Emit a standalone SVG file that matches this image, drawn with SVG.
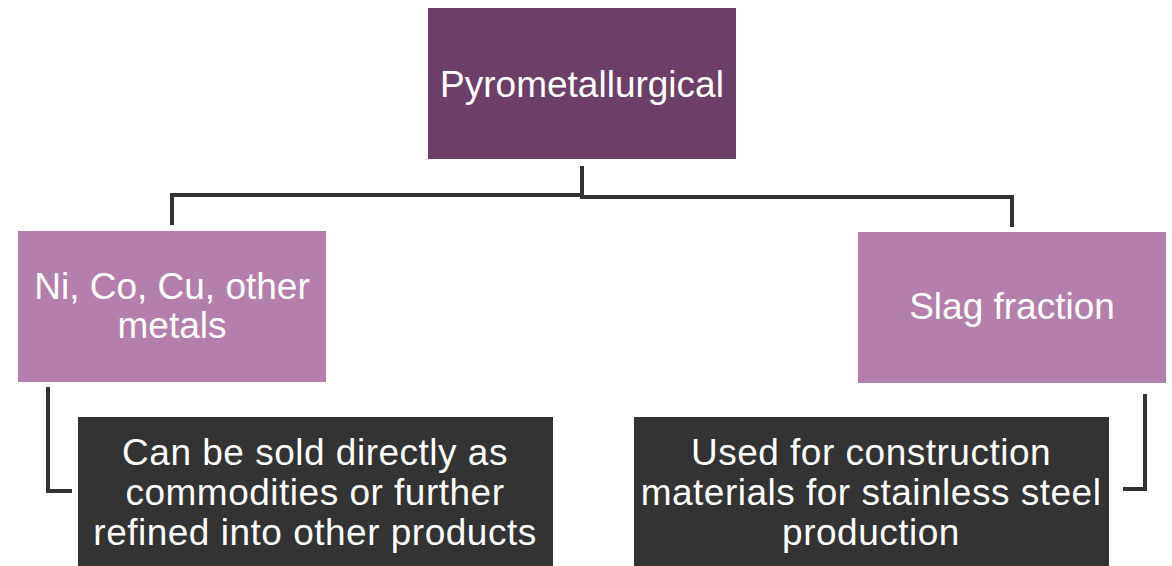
<svg xmlns="http://www.w3.org/2000/svg" width="1172" height="566" viewBox="0 0 1172 566">
<style>
.t{font-family:"Liberation Sans",Arial,sans-serif;font-size:37px;fill:#ffffff;text-anchor:middle}
.w{letter-spacing:0.5px}
.c{fill:none;stroke:#333333;stroke-width:4}
</style>
<rect width="1172" height="566" fill="#ffffff"/>
<g id="connectors">
<polyline class="c" points="582,166 582,195 172,195 172,225"/>
<polyline class="c" points="582,195 582,197 1012,197 1012,227"/>
<polyline class="c" points="48,387 48,491 72,491"/>
<polyline class="c" points="1145,394 1145,489 1123,489"/>
</g>
<g id="n-pyro">
<rect x="428" y="8" width="308" height="151" fill="#6c3f67"/>
<text class="t" x="582" y="97">Pyrometallurgical</text>
</g>
<g id="n-metals">
<rect x="18" y="231" width="308" height="151" fill="#b47fab"/>
<text class="t" x="172" y="299">Ni, Co, Cu, other</text>
<text class="t" x="172" y="338">metals</text>
</g>
<g id="n-slag">
<rect x="858" y="232" width="308" height="151" fill="#b47fab"/>
<text class="t" x="1012" y="319">Slag fraction</text>
</g>
<g id="n-sold">
<rect x="78" y="417" width="475" height="160" fill="#333333"/>
<text class="t w" x="315" y="465">Can be sold directly as</text>
<text class="t w" x="315" y="505">commodities or further</text>
<text class="t w" x="315" y="545">refined into other products</text>
</g>
<g id="n-used">
<rect x="634" y="417" width="475" height="160" fill="#333333"/>
<text class="t w" x="871" y="465">Used for construction</text>
<text class="t w" x="871" y="505">materials for stainless steel</text>
<text class="t w" x="871" y="545">production</text>
</g>
</svg>
